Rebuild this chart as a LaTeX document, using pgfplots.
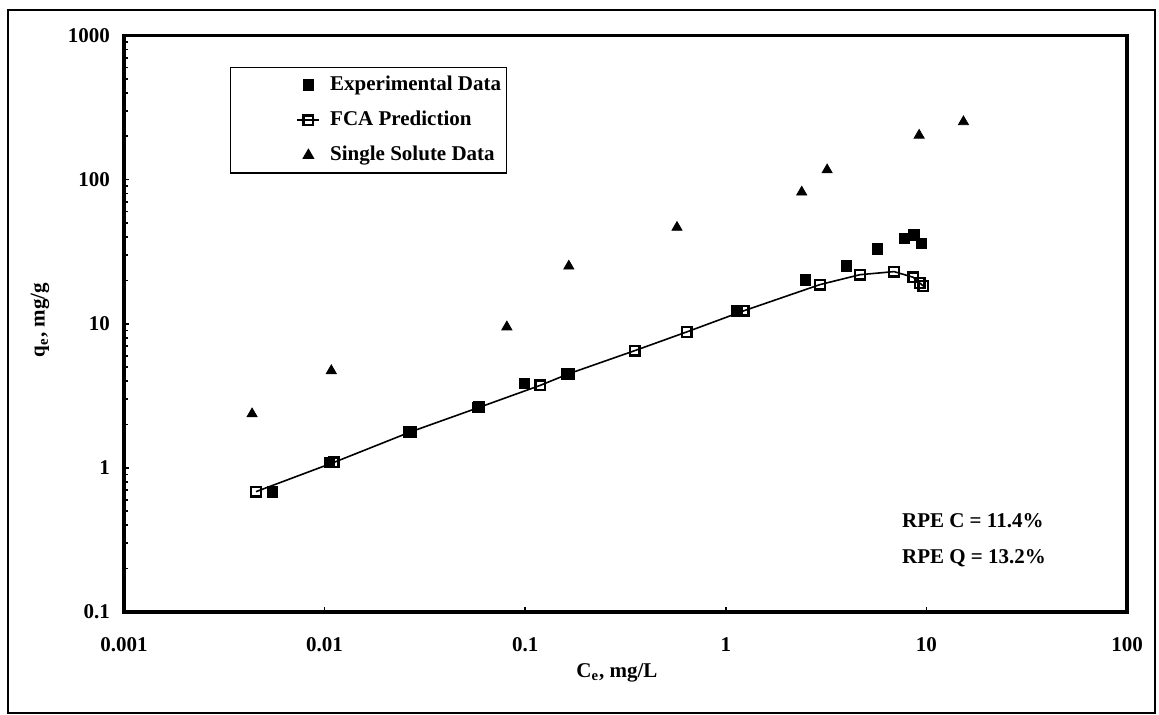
\documentclass[border=0pt]{standalone}
\usepackage{fontspec}
\setmainfont{Liberation Serif}
\usepackage{pgfplots}
\pgfplotsset{compat=1.18}
\begin{document}
\begin{tikzpicture}[font=\bfseries\fontsize{10.5}{12.6}\selectfont]
\path[use as bounding box] (0,0) rectangle (579.5pt,357.5pt);
\draw[line width=0.6pt] (4pt,1pt) rectangle (577.5pt,352.5pt);
\begin{axis}[
  at={(62pt,51.5pt)}, anchor=south west,
  scale only axis, width=501.5pt, height=288.25pt,
  xmode=log, ymode=log,
  xmin=0.001, xmax=100, ymin=0.1, ymax=1000,
  xtick={0.001,0.01,0.1,1,10,100},
  xticklabels={0.001,0.01,0.1,1,10,100},
  ytick={0.1,1,10,100,1000},
  yticklabels={0.1,1,10,100,1000},
  xminorticks=false,
  tick pos=left,
  tick align=inside,
  major tick length=2.5pt, minor tick length=2pt,
  tick style={black, line width=0.8pt},
  ticklabel style={font=\bfseries\fontsize{10.5}{12.6}\selectfont},
  /pgf/number format/assume math mode=true,
  yticklabel style={xshift=-3.5pt},
  xticklabel style={yshift=-9.4pt},
  xlabel={C\textsubscript{e}, mg/L},
  ylabel={q\textsubscript{e}, mg/g},
  label style={font=\bfseries\fontsize{10.5}{12.6}\selectfont},
  xlabel style={at={(axis description cs:0.4915,-0.1058)}, anchor=center},
  ylabel style={at={(axis description cs:-0.0837,0.5065)}, anchor=center},
  clip=false,
  legend cell align=left,
  legend image code/.code={%
    \path (-32pt,0pt);
    \draw[mark repeat=2,mark phase=2,#1] plot coordinates {(0pt,0pt) (5.5pt,0pt) (11pt,0pt)};},
  legend style={at={(axis description cs:0.1057,0.9454)}, anchor=north west,
    draw=black, line width=0.6pt, inner xsep=1pt, inner ysep=2.5pt,
    row sep=4.8pt, column sep=3.5pt,
    font=\bfseries\fontsize{10.5}{12.6}\selectfont,
    nodes={text height=7.5pt, text depth=2.2pt, inner sep=1.5pt}},
]
\addplot[only marks, mark=square*, mark size=2.6pt, black] coordinates {
(0.00551,0.68) (0.0106,1.09) (0.0261,1.78) (0.058,2.63) (0.099,3.85)
(0.160,4.50) (1.135,12.3) (2.49,20.2) (4.0,25.2) (5.71,33.0)
(7.76,39.1) (8.66,41.4) (9.46,36.2)};
\addlegendentry{Experimental Data}
\addplot[black, line width=0.8pt, mark=square, mark size=2.4pt,
  mark options={fill=white, line width=1.2pt, solid}] coordinates {
(0.00455,0.684) (0.0111,1.09) (0.0269,1.78) (0.059,2.63) (0.119,3.74)
(0.165,4.50) (0.352,6.51) (0.638,8.77) (1.23,12.3) (2.95,18.7)
(4.67,21.9) (6.9,23.0) (8.6,21.0) (9.26,19.2) (9.63,18.3)};
\addlegendentry{FCA Prediction}
\addplot[only marks, mark=triangle*, mark size=2.9pt, black] coordinates {
(0.00435,2.37) (0.0108,4.72) (0.081,9.5) (0.165,25.1) (0.571,46.6)
(2.39,81.9) (3.20,116.8) (9.2,203) (15.3,252)};
\addlegendentry{Single Solute Data}
\draw[line width=1.6pt] (rel axis cs:0,0) rectangle (rel axis cs:1,1);
\node[anchor=west] at (rel axis cs:0.7687,0.158) {RPE C = 11.4\%};
\node[anchor=west] at (rel axis cs:0.7687,0.0937) {RPE Q = 13.2\%};
\end{axis}
\end{tikzpicture}
\end{document}
